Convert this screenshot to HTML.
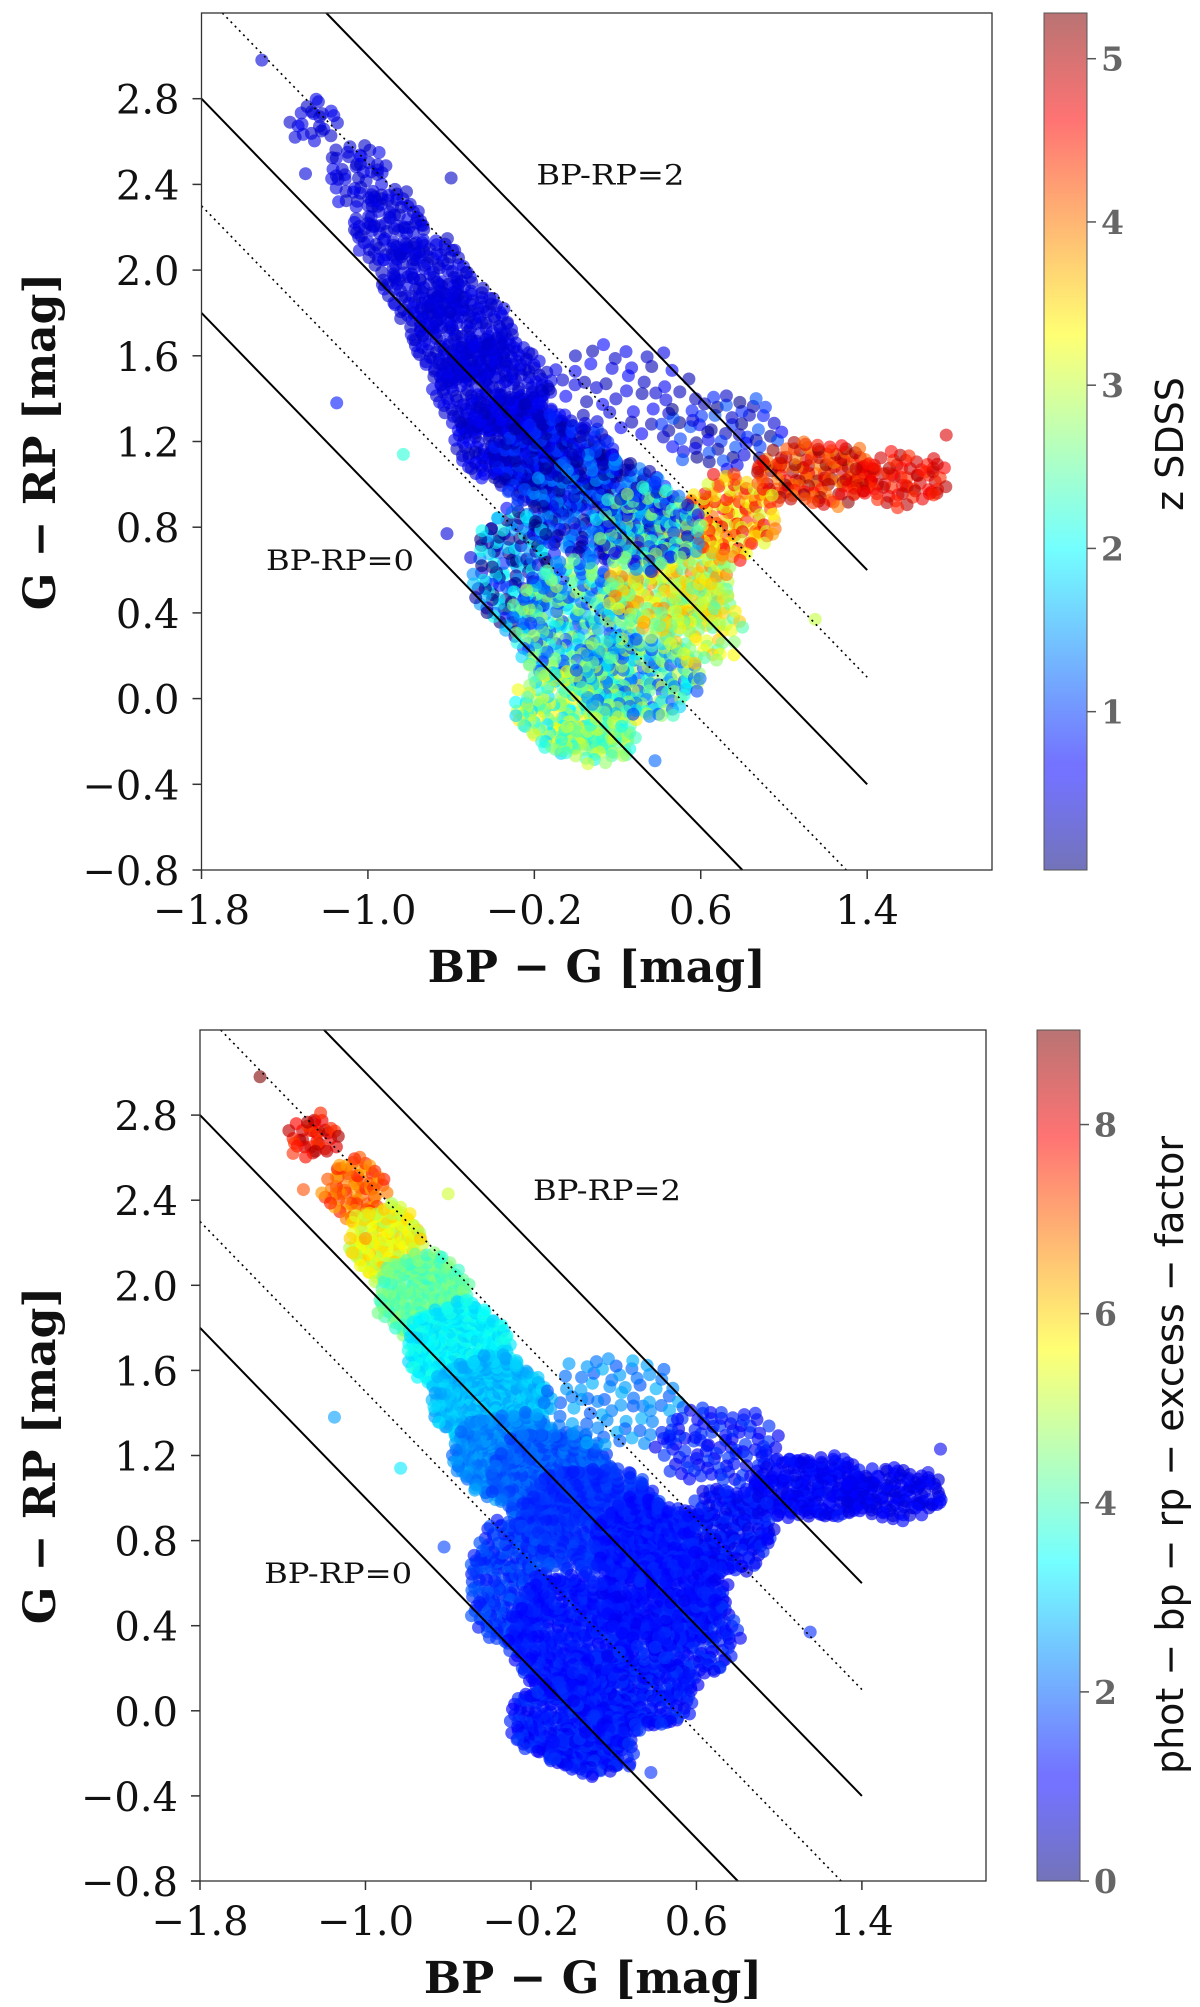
<!DOCTYPE html>
<html><head><meta charset="utf-8"><style>
html,body{margin:0;padding:0;background:#fff;}
svg{display:block;}
.tk{font-family:"DejaVu Serif","Liberation Serif",serif;font-size:40px;fill:#111;}
.ax{font-family:"DejaVu Serif","Liberation Serif",serif;font-size:44px;font-weight:bold;fill:#111;}
.cb{font-family:"DejaVu Serif","Liberation Serif",serif;font-size:33px;font-weight:bold;fill:#666;}
.cl{font-family:"DejaVu Sans","Liberation Sans",sans-serif;font-size:38px;fill:#111;}
.an{font-family:"DejaVu Serif","Liberation Serif",serif;font-size:28px;fill:#111;}
</style></head><body>
<svg id="fig" width="1200" height="2007" viewBox="0 0 1200 2007" xmlns="http://www.w3.org/2000/svg">
<defs>
<linearGradient id="jetg" x1="0" y1="1" x2="0" y2="0">
<stop offset="0" stop-color="#000080"/><stop offset="0.11" stop-color="#0000ff"/><stop offset="0.125" stop-color="#0000ff"/>
<stop offset="0.375" stop-color="#00ffff"/><stop offset="0.5" stop-color="#80ff80"/><stop offset="0.625" stop-color="#ffff00"/>
<stop offset="0.875" stop-color="#ff0000"/><stop offset="1" stop-color="#800000"/>
</linearGradient>
</defs>
</svg>
<script>
// ---- data ----
const blobX  = [-1.25,-1.05,-0.9,-0.72,-0.55,-0.4,-0.3,-0.1,0.1,0.2,0.7,1.15,1.55,-0.3,0.0,0.45,0.0,0.3,0.75,0.1,0.35,0.6];
const blobY  = [2.7,2.45,2.2,1.95,1.7,1.45,1.2,1.1,0.9,1.45,1.25,1.05,1.02,0.6,0.35,0.55,-0.05,0.1,0.85,-0.2,0.8,0.35];
const blobRX = [0.12,0.15,0.18,0.22,0.25,0.28,0.28,0.3,0.35,0.35,0.3,0.3,0.25,0.2,0.3,0.3,0.3,0.3,0.22,0.2,0.25,0.2];
const blobRY = [0.1,0.15,0.18,0.2,0.22,0.22,0.2,0.22,0.25,0.22,0.18,0.15,0.12,0.3,0.3,0.25,0.2,0.2,0.2,0.1,0.2,0.2];
const blobN  = [14,30,60,90,130,150,150,150,180,30,40,90,50,100,180,150,130,120,80,40,100,50];
const zTopMean   = [0.5,0.5,0.5,0.5,0.5,0.5,0.5,0.6,0.8,0.5,0.6,4.6,4.7,0.9,1.9,3.2,2.6,2.0,3.9,2.6,1.6,3.0];
const zTopSpread = [0.1,0.1,0.1,0.1,0.1,0.1,0.2,0.4,0.7,0.2,0.5,0.6,0.3,1.2,1.0,0.8,0.8,1.0,0.8,0.5,1.2,0.6];
const zBotMean   = [8,7,5.5,4.2,3.3,2.8,2.3,1.9,1.5,2.3,1.3,1.1,1.0,1.6,1.3,1.2,1.3,1.3,1.2,1.3,1.3,1.3];
const zBotSpread = [0.6,0.6,0.6,0.4,0.3,0.3,0.3,0.3,0.2,0.4,0.3,0.2,0.2,0.3,0.2,0.2,0.3,0.3,0.3,0.3,0.2,0.3];
const outX = [-1.51,-1.15,-0.83,1.15,1.78,1.72,0.38,-0.62,-1.35,-1.3,-1.0,-0.6];
const outY = [2.98,1.38,1.14,0.37,1.23,1.12,-0.29,0.77,2.62,2.45,2.22,2.43];
const outZTop = [0.5,0.8,2.2,3.0,4.8,4.8,1.2,0.5,0.5,0.5,0.5,0.4];
const outZBot = [9,2.5,3.2,1.5,1.0,1.0,1.5,1.7,7.5,7.2,6.5,5.2];
const xTicks = [-1.8,-1.0,-0.2,0.6,1.4];
const yTicks = [-0.8,-0.4,0.0,0.4,0.8,1.2,1.6,2.0,2.4,2.8];
const lineC = [0,1,2];      // solid BP-RP = c
const dotC  = [0.5,1.5];    // dotted
const cbTopTicks = [1,2,3,4,5];
const cbBotTicks = [0,2,4,6,8];

const NS="http://www.w3.org/2000/svg";
const svg=document.getElementById('fig');
function mk(tag,attrs,parent){const e=document.createElementNS(NS,tag);for(const k in attrs)e.setAttribute(k,attrs[k]);(parent||svg).appendChild(e);return e;}
function jet(t){t=Math.max(0,Math.min(1,t));const c=v=>Math.round(255*Math.max(0,Math.min(1,v)));
 return `rgb(${c(1.5-Math.abs(4*t-3))},${c(1.5-Math.abs(4*t-2))},${c(1.5-Math.abs(4*t-1))})`;}
function fmt(v){return (v<0?'\u2212':'')+Math.abs(v).toFixed(1);}

function panel(P){
 const g=mk('g',{});
 
 
 const X=v=>P.x0+(v-(-1.8))/(2.0-(-1.8))*(P.x1-P.x0);
 const Y=v=>P.y1-(v-(-0.8))/(3.2-(-0.8))*(P.y1-P.y0);
 const clip='clip'+P.id;
 const cp=mk('clipPath',{id:clip},g);mk('rect',{x:P.x0,y:P.y0,width:P.x1-P.x0,height:P.y1-P.y0},cp);
 const pts=mk('g',{'clip-path':`url(#${clip})`},g);
 
 
 const zr=P.zmax-P.zmin;
 for(let b=0;b<blobX.length;b++){
  const n=Math.round(blobN[b]*P.mult);
  for(let i=0;i<n;i++){
   const r=Math.sqrt((i+0.5)/n), a=i*2.39996;
   const jx=0.015*Math.sin(i*7.3+b), jy=0.015*Math.cos(i*5.7+b);
   const px=blobX[b]+blobRX[b]*r*Math.cos(a)+jx, py=blobY[b]+blobRY[b]*r*Math.sin(a)+jy;
   const z=P.zm[b]+P.zs[b]*Math.sin(i*1.7+b);
   const c=mk('circle',{cx:X(px).toFixed(1),cy:Y(py).toFixed(1),r:6.5,fill:jet((z-P.zmin)/zr),'fill-opacity':P.op},pts);
   
   
  }
 }
 for(let i=0;i<outX.length;i++){
  const c=mk('circle',{cx:X(outX[i]),cy:Y(outY[i]),r:6.5,fill:jet((P.oz[i]-P.zmin)/zr),'fill-opacity':0.6},pts);
  
  
 }
 function seg(c,dash,nm){
  let xa=-1.8, ya=c+1.8; if(ya>3.2){ya=3.2;xa=c-3.2;}
  let xb=1.4, yb=c-1.4; if(yb<-0.8){yb=-0.8;xb=c+0.8;}
  const l=mk('line',{x1:X(xa),y1:Y(ya),x2:X(xb),y2:Y(yb),stroke:'#000','stroke-width':dash?1.6:2,'stroke-dasharray':dash?'2 4':'none'},g);
  
  
 }
 lineC.forEach(c=>seg(c,false,'line-bp-rp-'+c));
 dotC.forEach(c=>seg(c,true,'dotted-line-bp-rp-'+String(c).replace('.','p')));
 const fr=mk('rect',{x:P.x0,y:P.y0,width:P.x1-P.x0,height:P.y1-P.y0,fill:'none',stroke:'#333','stroke-width':1.3},g);
 
 
 xTicks.forEach(v=>{
  mk('line',{x1:X(v),x2:X(v),y1:P.y1,y2:P.y1+9,stroke:'#333','stroke-width':1.5},g);
  const t=mk('text',{x:X(v),y:P.y1+54,'text-anchor':'middle',class:'tk'},g);t.textContent=fmt(v);
  
  
 });
 yTicks.forEach(v=>{
  mk('line',{x1:P.x0-9,x2:P.x0,y1:Y(v),y2:Y(v),stroke:'#333','stroke-width':1.5},g);
  const t=mk('text',{x:P.x0-22,y:Y(v)+15,'text-anchor':'end',class:'tk'},g);t.textContent=fmt(v);
  
  
 });
 const xl=mk('text',{x:(P.x0+P.x1)/2,y:P.y1+112,'text-anchor':'middle',class:'ax','xml:space':'preserve'},g);xl.textContent='BP \u2212 G  [mag]';
 
 
 const yc=(P.y0+P.y1)/2;
 const yl=mk('text',{x:0,y:0,'text-anchor':'middle',class:'ax','xml:space':'preserve',transform:`translate(55,${yc}) rotate(-90)`},g);yl.textContent='G \u2212 RP  [mag]';
 
 
 const a2=mk('text',{x:X(P.t2[0]),y:Y(P.t2[1]),class:'an',textLength:148,lengthAdjust:'spacingAndGlyphs'},g);a2.textContent='BP-RP=2';
 
 
 const a0=mk('text',{x:X(P.t0[0]),y:Y(P.t0[1]),class:'an',textLength:148,lengthAdjust:'spacingAndGlyphs'},g);a0.textContent='BP-RP=0';
 
 
 const cb=mk('g',{},g);
 
 
 mk('rect',{x:P.cx0,y:P.y0,width:P.cx1-P.cx0,height:P.y1-P.y0,fill:'url(#jetg)','fill-opacity':0.55,stroke:'#555','stroke-width':1},cb);
 const CY=v=>P.y1-(v-P.zmin)/zr*(P.y1-P.y0);
 P.cbt.forEach(v=>{
  mk('line',{x1:P.cx1,x2:P.cx1+9,y1:CY(v),y2:CY(v),stroke:'#555','stroke-width':1.5},cb);
  const t=mk('text',{x:P.cx1+14,y:CY(v)+12,class:'cb'},cb);t.textContent=String(v);
  
  
 });
 const cl=mk('text',{x:0,y:0,'text-anchor':'middle',class:'cl',transform:`translate(1183,${P.ly}) rotate(-90)`},cb);cl.textContent=P.label;
 
 
}
panel({id:1,name:'top-panel-zsdss',x0:201.5,x1:992,y0:13,y1:870,zmin:0.03,zmax:5.28,zm:zTopMean,zs:zTopSpread,oz:outZTop,mult:1.5,op:0.6,
 cx0:1044,cx1:1087,cbt:cbTopTicks,label:'z SDSS',t2:[-0.19,2.4],t0:[-1.49,0.6],ly:444});
panel({id:2,name:'bottom-panel-excess-factor',x0:200,x1:986,y0:1030,y1:1881,zmin:0,zmax:9,zm:zBotMean,zs:zBotSpread,oz:outZBot,mult:2.5,op:0.65,
 cx0:1037,cx1:1080,cbt:cbBotTicks,label:'phot \u2212 bp \u2212 rp \u2212 excess \u2212 factor',t2:[-0.19,2.4],t0:[-1.49,0.6],ly:1455});
</script>
</body></html>
